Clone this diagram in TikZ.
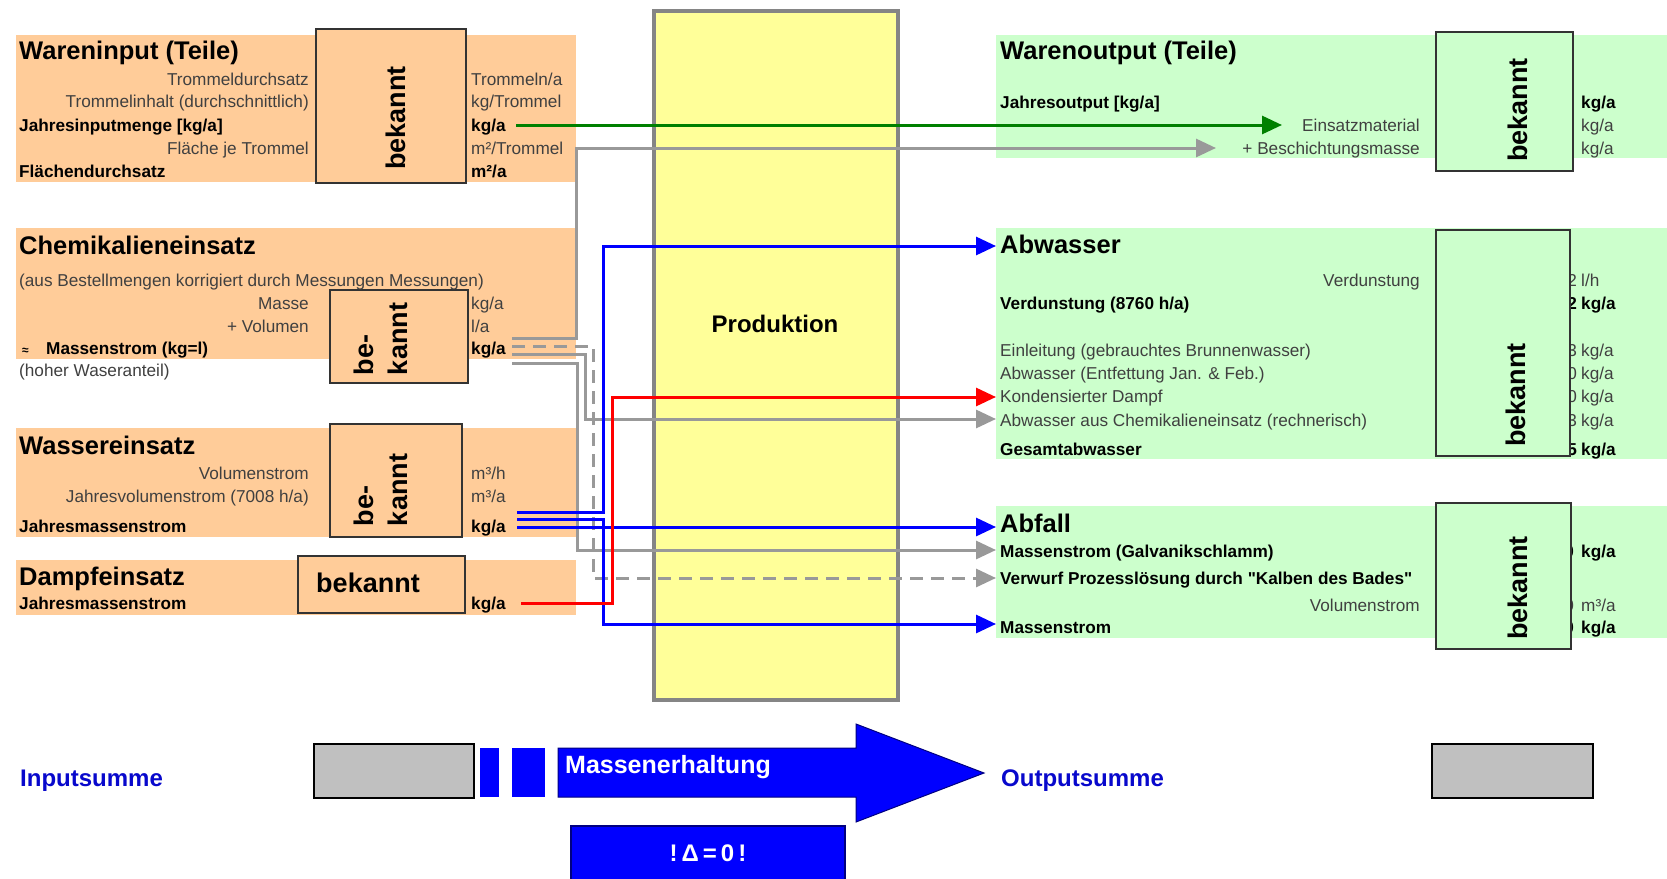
\documentclass[tikz,border=0pt]{standalone}
\usepackage{fontspec}
\setmainfont{Liberation Sans}
\newfontfamily\nomap{Liberation Sans}
\usetikzlibrary{arrows.meta}
\definecolor{orng}{HTML}{FFCC99}
\definecolor{grn}{HTML}{CCFFCC}
\definecolor{ylw}{HTML}{FFFF99}
\definecolor{gline}{HTML}{999999}
\definecolor{pbord}{HTML}{858585}
\definecolor{bdark}{HTML}{333333}
\definecolor{tgray}{HTML}{404040}
\definecolor{fblue}{HTML}{0000FF}
\definecolor{lblue}{HTML}{0808CC}
\definecolor{fred}{HTML}{FF0000}
\definecolor{fgreen}{HTML}{008000}
\definecolor{sgray}{HTML}{C0C0C0}
\definecolor{navy}{HTML}{000080}
\newcommand\fsn{\fontsize{17.2}{20}\selectfont}
\newcommand\fsh{\fontsize{25.5}{29}\selectfont\bfseries}
\newcommand\fsb{\fontsize{27}{34}\selectfont\bfseries}
\tikzset{
  bgO/.style={fill=orng, draw=none},
  bgG/.style={fill=grn, draw=none},
  bekbox/.style={draw=bdark, line width=2pt},
  bektext/.style={font=\fsb, inner sep=0, align=left},
  hd/.style={anchor=mid west, font=\fsh, inner sep=0, yshift=-5pt},
  rl/.style={anchor=mid east, font=\fsn, text=tgray, inner sep=0, yshift=-3.5pt},
  ll/.style={anchor=mid west, font=\fsn, text=tgray, inner sep=0, yshift=-3.5pt},
  bl/.style={anchor=mid west, font=\fsn\bfseries, inner sep=0, yshift=-3.5pt},
  un/.style={anchor=mid west, font=\fsn, text=tgray, inner sep=0, yshift=-3.5pt},
  ub/.style={anchor=mid west, font=\fsn\bfseries, inner sep=0, yshift=-3.5pt},
  dg/.style={anchor=mid east, font=\fsn, text=tgray, inner sep=0, yshift=-3.5pt},
  dgb/.style={anchor=mid east, font=\fsn\bfseries, inner sep=0, yshift=-3.5pt},
  flow/.style={line width=3pt, -{Triangle[length=20pt,width=18pt]}},
  sumlbl/.style={anchor=mid west, font=\fontsize{24}{28}\selectfont\bfseries, text=lblue, inner sep=0, yshift=-6pt},
  sumbox/.style={fill=sgray, draw=black, line width=2pt},
}
\begin{document}
\begin{tikzpicture}[x=1pt,y=-1pt]
\useasboundingbox[fill=white] (0,0) rectangle (1667,878);

% ---------- backgrounds ----------
\fill[bgO] (16,35) rectangle (576,182);
\fill[bgO] (16,228) rectangle (576,359);
\fill[bgO] (16,428) rectangle (576,537);
\fill[bgO] (16,560) rectangle (576,615);
\fill[bgG] (996,35) rectangle (1667,158);
\fill[bgG] (996,228) rectangle (1667,459);
\fill[bgG] (996,506) rectangle (1667,638);

% ---------- production ----------
\draw[draw=pbord, line width=4.5pt, fill=ylw] (654,11) rectangle (898,700);
\node[font=\fontsize{24}{28}\selectfont\bfseries, inner sep=0] (prod) at (775,324) {Produktion};

% ---------- left: Wareninput ----------
\draw[bekbox, fill=orng] (316,29) rectangle (466,183);
\node[bektext, rotate=90] (bk1) at (396,118) {bekannt};
\node[hd] (h1) at (19,52) {Wareninput (Teile)};
\node[rl] (l11) at (309,79) {Trommeldurchsatz};
\node[rl] (l12) at (309,101) {Trommelinhalt (durchschnittlich)};
\node[bl] (l13) at (19,125) {Jahresinputmenge [kg/a]};
\node[rl] (l14) at (309,148) {Fläche je Trommel};
\node[bl] (l15) at (19,171) {Flächendurchsatz};
\node[un] (u11) at (471,79) {Trommeln/a};
\node[un] (u12) at (471,101) {kg/Trommel};
\node[ub] (u13) at (471,125) {kg/a};
\node[un] (u14) at (471,148) {m²/Trommel};
\node[ub] (u15) at (471,171) {m²/a};

% ---------- left: Chemikalien ----------
\draw[bekbox, fill=orng] (330,290) rectangle (468,383);
\node[bektext, rotate=90] (bk2) at (381,339) {be-\\kannt};
\node[hd] (h2) at (19,247) {Chemikalieneinsatz};
\node[ll] (l21) at (19,280) {(aus Bestellmengen korrigiert durch Messungen Messungen)};
\node[rl] (l22) at (309,303) {Masse};
\node[rl] (l23) at (309,326) {+ Volumen};
\node[bl] (l24) at (22,348) {\makebox[24pt][l]{\fontsize{12}{14}\selectfont ≈}Massenstrom (kg=l)};
\node[ll] (l25) at (19,370) {(hoher Waseranteil)};
\node[un] (u21) at (471,303) {kg/a};
\node[un] (u22) at (471,326) {l/a};
\node[ub] (u23) at (471,348) {kg/a};

% ---------- left: Wasser ----------
\draw[bekbox, fill=orng] (330,424) rectangle (462,537);
\node[bektext, rotate=90] (bk3) at (381,490) {be-\\kannt};
\node[hd] (h3) at (19,447) {Wassereinsatz};
\node[rl] (l31) at (309,473) {Volumenstrom};
\node[rl] (l32) at (309,496) {Jahresvolumenstrom (7008 h/a)};
\node[bl] (l33) at (19,526) {Jahresmassenstrom};
\node[un] (u31) at (471,473) {m³/h};
\node[un] (u32) at (471,496) {m³/a};
\node[ub] (u33) at (471,526) {kg/a};

% ---------- left: Dampf ----------
\draw[bekbox, fill=orng] (298,556) rectangle (465,613);
\node[font=\fsb, inner sep=0] (bk4) at (368,583) {bekannt};
\node[hd] (h4) at (19,578) {Dampfeinsatz};
\node[bl] (l41) at (19,603) {Jahresmassenstrom};
\node[ub] (u41) at (471,603) {kg/a};

% ---------- right: Warenoutput ----------
\node[hd] (h5) at (1000,52) {Warenoutput (Teile)};
\node[bl] (r51) at (1000,102) {Jahresoutput [kg/a]};
\node[rl] (r52) at (1420,125) {Einsatzmaterial};
\node[rl] (r53) at (1420,148) {+ Beschichtungsmasse};
\node[ub] (v51) at (1581,102) {kg/a};
\node[un] (v52) at (1581,125) {kg/a};
\node[un] (v53) at (1581,148) {kg/a};
\draw[bekbox, fill=grn] (1436,32) rectangle (1573,171);
\node[bektext, rotate=90] (bk5) at (1518,110) {bekannt};

% ---------- right: Abwasser ----------
\node[hd] (h6) at (1000,246) {Abwasser};
\node[rl] (r61) at (1420,280) {Verdunstung};
\node[bl] (r62) at (1000,303) {Verdunstung (8760 h/a)};
\node[ll] (r63) at (1000,350) {Einleitung (gebrauchtes Brunnenwasser)};
\node[ll] (r64) at (1000,373) {Abwasser (Entfettung Jan. \& Feb.)};
\node[ll] (r65) at (1000,396) {Kondensierter Dampf};
\node[ll] (r66) at (1000,420) {Abwasser aus Chemikalieneinsatz (rechnerisch)};
\node[bl] (r67) at (1000,449) {Gesamtabwasser};
\node[dg]  (d61) at (1577,280) {2};
\node[dgb] (d62) at (1577,303) {2};
\node[dg]  (d63) at (1577,350) {3};
\node[dg]  (d64) at (1577,373) {0};
\node[dg]  (d65) at (1577,396) {0};
\node[dg]  (d66) at (1577,420) {3};
\node[dgb] (d67) at (1577,449) {5};
\node[un] (v61) at (1581,280) {l/h};
\node[ub] (v62) at (1581,303) {kg/a};
\node[un] (v63) at (1581,350) {kg/a};
\node[un] (v64) at (1581,373) {kg/a};
\node[un] (v65) at (1581,396) {kg/a};
\node[un] (v66) at (1581,420) {kg/a};
\node[ub] (v67) at (1581,449) {kg/a};
\draw[bekbox, fill=grn] (1436,230) rectangle (1570,456);
\node[bektext, rotate=90] (bk6) at (1516,395) {bekannt};

% ---------- right: Abfall ----------
\node[hd] (h7) at (1000,525) {Abfall};
\node[bl] (r71) at (1000,551) {Massenstrom (Galvanikschlamm)};
\node[bl] (r72) at (1000,578) {\nomap Verwurf Prozesslösung durch "Kalben des Bades"};
\node[rl] (r73) at (1420,605) {Volumenstrom};
\node[bl] (r74) at (1000,627) {Massenstrom};
\node[dgb] (d71) at (1574,551) {0};
\node[dg]  (d73) at (1574,605) {0};
\node[dgb] (d74) at (1574,627) {0};
\node[ub] (v71) at (1581,551) {kg/a};
\node[un] (v73) at (1581,605) {m³/a};
\node[ub] (v74) at (1581,627) {kg/a};
\draw[bekbox, fill=grn] (1436,503) rectangle (1571,649);
\node[bektext, rotate=90] (bk7) at (1518,588) {bekannt};

% ---------- connectors ----------
\coordinate (gS) at (516,125);  \coordinate (gE) at (1282,125);
\coordinate (c1S) at (512,338); \coordinate (c1E) at (1216,148);
\coordinate (c2S) at (512,346); \coordinate (c2E) at (996,578);
\coordinate (c3S) at (512,354); \coordinate (c3E) at (996,419);
\coordinate (c4S) at (512,363); \coordinate (c4E) at (996,550);
\coordinate (w1S) at (517,512); \coordinate (w1E) at (996,246);
\coordinate (w2S) at (517,519); \coordinate (w2E) at (996,624);
\coordinate (w3S) at (517,527); \coordinate (w3E) at (996,527);
\coordinate (rS)  at (521,603); \coordinate (rE)  at (996,397);

\draw[flow, gline] (c1S) -- (576,338) |- (c1E);
\draw[flow, gline] (c4S) -- (577,363) |- (c4E);
\draw[flow, gline] (c3S) -- (585,354) |- (c3E);
\draw[flow, gline, dash pattern=on 13pt off 8pt] (c2S) -- (593,346) |- (c2E);
\draw[flow, fblue] (w1S) -- (603,512) |- (w1E);
\draw[flow, fblue] (w2S) -- (603,519) |- (w2E);
\draw[flow, fblue] (w3S) -- (w3E);
\draw[flow, fred] (rS) -- (612,603) |- (rE);
\draw[flow, fgreen] (gS) -- (gE);

% ---------- bottom ----------
\node[sumlbl] (insum) at (20,778) {Inputsumme};
\draw[sumbox] (314,744) rectangle (474,798);
\fill[fblue] (480,748) rectangle (499,797);
\fill[fblue] (512,748) rectangle (545,797);
\draw[fill=fblue, draw=navy, line width=1pt] (558,748) -- (856,748) -- (856,724) -- (984,773) -- (856,822) -- (856,797) -- (558,797) -- cycle;
\node[anchor=mid west, font=\fontsize{25}{28}\selectfont\bfseries, text=white, inner sep=0, yshift=-4pt] (merh) at (565,767) {Massenerhaltung};
\node[sumlbl] (outsum) at (1001,778) {Outputsumme};
\draw[sumbox] (1432,744) rectangle (1593,798);
\draw[fill=fblue, draw=navy, line width=2pt] (571,826) rectangle (845,884);
\node[font=\fontsize{24}{28}\selectfont\bfseries, text=white, inner sep=0] (delta) at (708,853) {!\,Δ\,=\,0\,!};
\end{tikzpicture}
\end{document}
